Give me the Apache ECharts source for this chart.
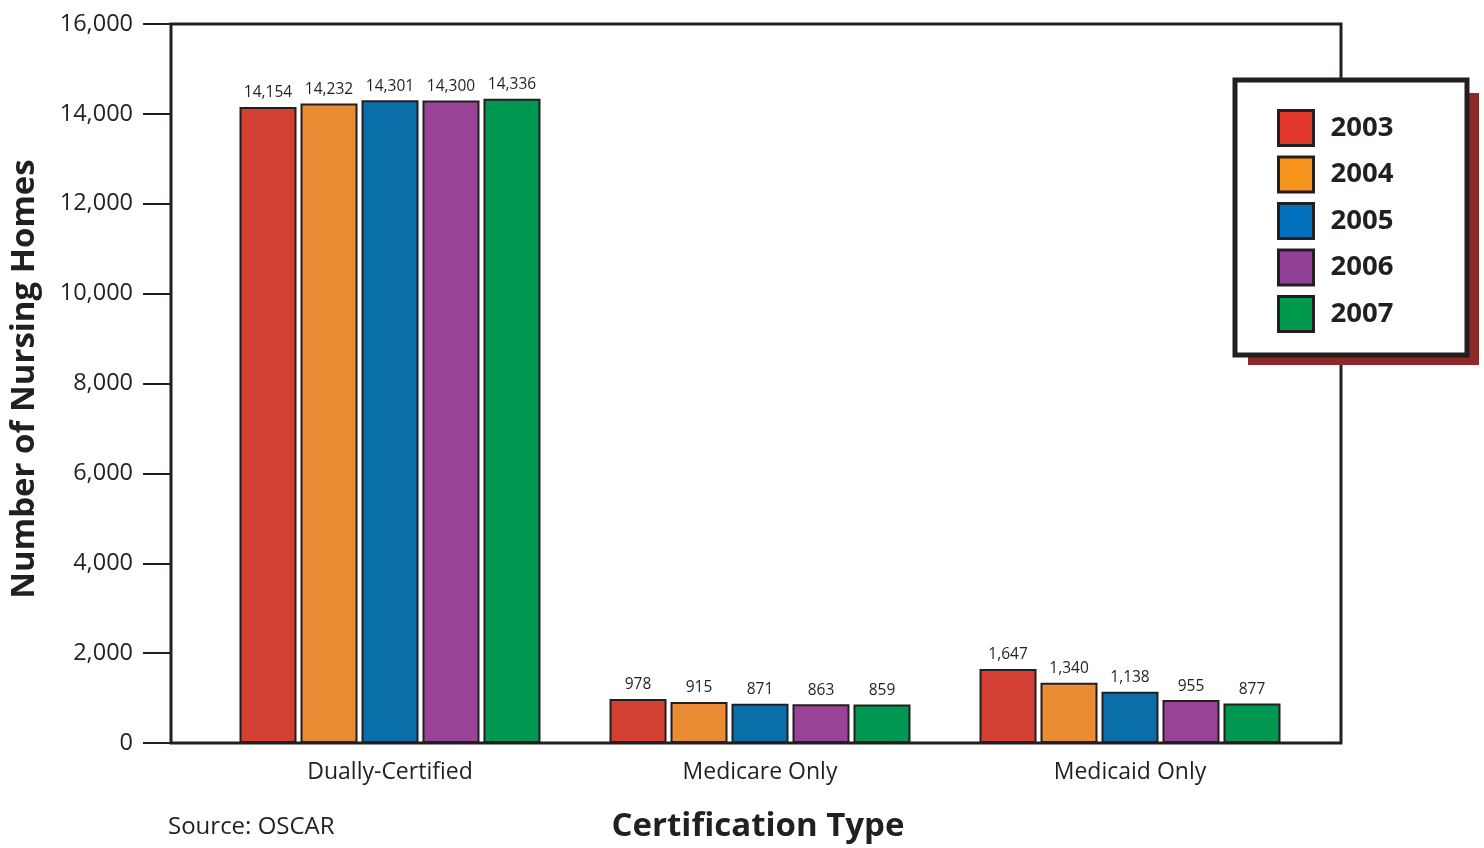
<!DOCTYPE html>
<html>
<head>
<meta charset="utf-8">
<script src="https://cdn.jsdelivr.net/npm/echarts@6/dist/echarts.min.js"></script>
<style>
html,body{margin:0;padding:0;background:#fff;}
#chart{width:1484px;height:848px;}
</style>
</head>
<body>
<div id="chart"></div>
<script>
const categories = ['Dually-Certified', 'Medicare Only', 'Medicaid Only'];
const years = ['2003', '2004', '2005', '2006', '2007'];
const values2003 = [14154, 978, 1647];
const values2004 = [14232, 915, 1340];
const values2005 = [14301, 871, 1138];
const values2006 = [14300, 863, 955];
const values2007 = [14336, 859, 877];
const yTicks = [0, 2000, 4000, 6000, 8000, 10000, 12000, 14000, 16000];
const colors = ['#d43f34', '#e98c33', '#0a6ea9', '#984396', '#009750'];
const legendColors = ['#e1372b', '#f7941d', '#0070bd', '#923f98', '#009a4c'];

const allValues = [values2003, values2004, values2005, values2006, values2007];
const FONT = '"Open Sans", sans-serif';
const INK = '#231f20';

const chart = echarts.init(document.getElementById('chart'));
const series = years.map((y, i) => ({
  name: y,
  type: 'bar',
  data: allValues[i],
  barWidth: 57,
  barGap: '7%',
  itemStyle: { color: colors[i], borderColor: INK, borderWidth: 2 },
  label: {
    show: true, position: 'top', distance: 6,
    color: INK, fontSize: 15.5, fontFamily: FONT,
    formatter: p => p.value.toLocaleString('en-US')
  },
  z: 2
}));

chart.setOption({
  animation: false,
  backgroundColor: '#fff',
  color: colors,
  grid: { left: 205, right: 169, top: 24, bottom: 105, containLabel: false },
  xAxis: {
    type: 'category',
    data: categories,
    axisLine: { show: false },
    axisTick: { show: false },
    axisLabel: { color: INK, fontSize: 23, fontFamily: FONT, margin: 18 }
  },
  yAxis: {
    type: 'value',
    min: 0, max: 16000, interval: 2000,
    offset: 34,
    splitLine: { show: false },
    axisLine: { show: false },
    axisTick: { show: true, length: 28, lineStyle: { color: INK, width: 2 } },
    axisLabel: {
      color: INK, fontSize: 23.5, fontFamily: FONT, margin: 38,
      formatter: v => yTicks.includes(v) ? v.toLocaleString('en-US') : ''
    }
  },
  legend: {
    data: years.map((y, i) => ({ name: y, itemStyle: { color: legendColors[i] } })),
    orient: 'vertical',
    left: 1277, top: 109,
    padding: 0,
    itemWidth: 35, itemHeight: 35, itemGap: 8.5,
    icon: 'rect',
    itemStyle: { borderColor: INK, borderWidth: 3 },
    textStyle: { color: INK, fontSize: 27.5, fontWeight: 'bold', fontFamily: FONT,
                 lineHeight: 35, padding: [0, 0, 0, 12] },
    z: 10
  },
  graphic: [
    { type: 'rect', shape: { x: 171, y: 24, width: 1170, height: 719 },
      style: { fill: null, stroke: INK, lineWidth: 3 }, z: 5, silent: true },
    { type: 'rect', shape: { x: 1248, y: 93, width: 231, height: 272 },
      style: { fill: '#8e2a27' }, z: 6 },
    { type: 'rect', shape: { x: 1235, y: 80, width: 232, height: 275 },
      style: { fill: '#fff', stroke: INK, lineWidth: 5 }, z: 7 },
    { type: 'text', x: 25, y: 379, rotation: Math.PI / 2,
      style: { text: 'Number of Nursing Homes', fill: INK, fontSize: 33, fontWeight: 'bold',
               fontFamily: FONT, align: 'center', verticalAlign: 'middle' }, z: 8 },
    { type: 'text', x: 758, y: 827,
      style: { text: 'Certification Type', fill: INK, fontSize: 33, fontWeight: 'bold',
               fontFamily: FONT, align: 'center', verticalAlign: 'middle' }, z: 8 },
    { type: 'text', x: 168, y: 827,
      style: { text: 'Source: OSCAR', fill: INK, fontSize: 24,
               fontFamily: FONT, align: 'left', verticalAlign: 'middle' }, z: 8 }
  ],
  series: series
});
</script>
</body>
</html>
